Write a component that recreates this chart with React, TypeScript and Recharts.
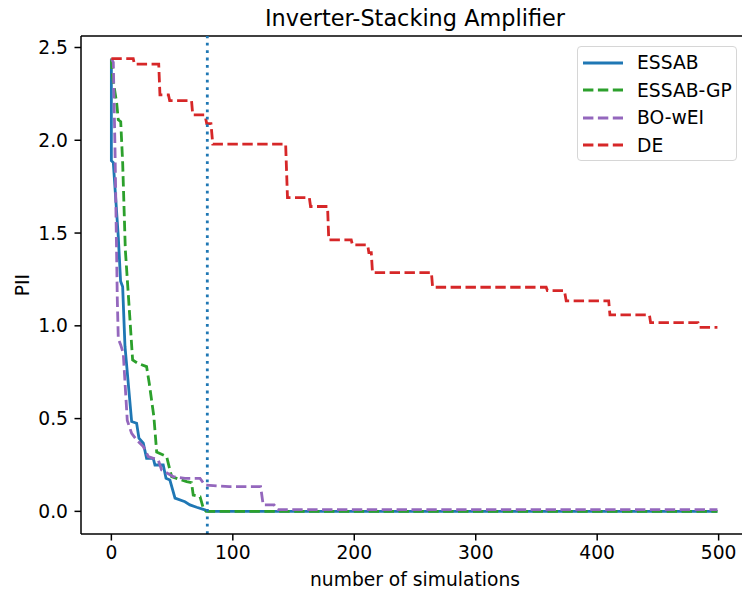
import { LineChart, Line, XAxis, YAxis, ReferenceLine } from 'recharts'

// best PII found so far vs. number of simulations
const essab = [
  { x: 0, y: 2.44 }, { x: 0, y: 1.89 }, { x: 1.6, y: 1.88 }, { x: 5.7, y: 1.48 },
  { x: 7.6, y: 1.24 }, { x: 9.3, y: 1.21 }, { x: 11.2, y: 0.89 }, { x: 16.7, y: 0.484 },
  { x: 20.8, y: 0.475 }, { x: 22.7, y: 0.394 }, { x: 26.3, y: 0.367 }, { x: 29, y: 0.286 },
  { x: 34.5, y: 0.286 }, { x: 35.9, y: 0.25 }, { x: 42.7, y: 0.25 }, { x: 45, y: 0.178 },
  { x: 48.2, y: 0.169 }, { x: 52.4, y: 0.071 }, { x: 60.6, y: 0.052 }, { x: 64.7, y: 0.035 },
  { x: 70.2, y: 0.022 }, { x: 77, y: 0.008 }, { x: 80, y: 0 }, { x: 499, y: 0 },
]

const essabGp = [
  { x: 0, y: 2.44 }, { x: 1, y: 2.34 }, { x: 4.4, y: 2.2 }, { x: 5.7, y: 2.11 },
  { x: 7.7, y: 2.1 }, { x: 9.3, y: 1.88 }, { x: 11.5, y: 1.41 }, { x: 14.7, y: 1.095 },
  { x: 17.5, y: 0.816 }, { x: 21.8, y: 0.798 }, { x: 29, y: 0.78 }, { x: 31.2, y: 0.69 },
  { x: 35, y: 0.51 }, { x: 37.3, y: 0.32 }, { x: 45.5, y: 0.295 }, { x: 49.6, y: 0.187 },
  { x: 62, y: 0.16 }, { x: 66, y: 0.155 }, { x: 67.4, y: 0.088 }, { x: 73, y: 0.079 },
  { x: 75.7, y: 0.017 }, { x: 78, y: 0 }, { x: 499, y: 0 },
]

const boWei = [
  { x: 0, y: 2.44 }, { x: 1.6, y: 2.42 }, { x: 3, y: 1.95 }, { x: 4.9, y: 1.14 },
  { x: 5.7, y: 0.93 }, { x: 7.7, y: 0.897 }, { x: 9.8, y: 0.852 }, { x: 13.1, y: 0.49 },
  { x: 16.7, y: 0.42 }, { x: 20.8, y: 0.385 }, { x: 26.3, y: 0.349 }, { x: 30.4, y: 0.295 },
  { x: 38.6, y: 0.277 }, { x: 41.4, y: 0.223 }, { x: 51, y: 0.187 }, { x: 60.6, y: 0.178 },
  { x: 73, y: 0.178 }, { x: 77, y: 0.142 }, { x: 97, y: 0.133 }, { x: 122.9, y: 0.133 },
  { x: 125, y: 0.035 }, { x: 134, y: 0.035 }, { x: 137, y: 0.009 }, { x: 499, y: 0.009 },
]

const de = [
  { x: 0, y: 2.44 }, { x: 18, y: 2.44 }, { x: 19, y: 2.41 }, { x: 39, y: 2.41 },
  { x: 40, y: 2.245 }, { x: 47, y: 2.245 }, { x: 48, y: 2.214 }, { x: 66, y: 2.214 },
  { x: 67, y: 2.137 }, { x: 77, y: 2.137 }, { x: 78.5, y: 2.09 }, { x: 82, y: 2.09 },
  { x: 83.5, y: 1.979 }, { x: 143.5, y: 1.979 }, { x: 145, y: 1.691 }, { x: 163, y: 1.691 },
  { x: 164, y: 1.643 }, { x: 178, y: 1.643 }, { x: 179, y: 1.463 }, { x: 197.5, y: 1.463 },
  { x: 198.5, y: 1.436 }, { x: 211, y: 1.436 }, { x: 212, y: 1.395 }, { x: 214, y: 1.395 },
  { x: 215, y: 1.287 }, { x: 263.5, y: 1.287 }, { x: 264.5, y: 1.208 }, { x: 358, y: 1.208 },
  { x: 359, y: 1.19 }, { x: 373, y: 1.19 }, { x: 374.5, y: 1.134 }, { x: 409.5, y: 1.134 },
  { x: 410.5, y: 1.059 }, { x: 443, y: 1.059 }, { x: 444, y: 1.017 }, { x: 483, y: 1.017 },
  { x: 484, y: 0.992 }, { x: 499, y: 0.992 },
]

const xTicks = [0, 100, 200, 300, 400, 500]
const yTicks = [0, 0.5, 1, 1.5, 2, 2.5]
const xDomain = [-25, 525]
const yDomain = [-0.122, 2.562]
const budgetLine = 79

const series = [
  { name: 'ESSAB', data: essab, color: '#1f77b4', dash: undefined },
  { name: 'ESSAB-GP', data: essabGp, color: '#2ca02c', dash: '10.4 4.5' },
  { name: 'BO-wEI', data: boWei, color: '#9467bd', dash: '10.4 4.5' },
  { name: 'DE', data: de, color: '#d62728', dash: '10.4 4.5' },
]

const font = '"DejaVu Sans", sans-serif'
const fs = 18.7
const tickStyle = { fill: '#000', fontSize: fs, fontFamily: font }
const axisStroke = { stroke: '#000', strokeWidth: 1.5 }

function LegendBox() {
  return (
    <div style={{
      position: 'absolute', left: 577, top: 46, width: 160, height: 115, boxSizing: 'border-box',
      background: 'rgba(255,255,255,0.8)', border: '1.5px solid #d6d6d6', borderRadius: 4,
      paddingTop: 2, fontFamily: font, fontSize: fs, color: '#000',
    }}>
      {series.map(s => (
        <div key={s.name} style={{ display: 'flex', alignItems: 'center', height: 27.5 }}>
          <svg width={40} height={10} style={{ marginLeft: 5, marginRight: 14 }}>
            <line x1={0} y1={5} x2={40} y2={5} stroke={s.color} strokeWidth={2.8} strokeDasharray={s.dash} />
          </svg>
          <span>{s.name}</span>
        </div>
      ))}
    </div>
  )
}

export default function App() {
  return (
    <div style={{ position: 'absolute', left: 0, top: 0, width: 742, height: 592, overflow: 'hidden', background: '#fff' }}>
      <div style={{
        position: 'absolute', left: 81, width: 668, top: 4, lineHeight: '28px', textAlign: 'center',
        fontFamily: font, fontSize: 22.4, color: '#000',
      }}>
        Inverter-Stacking Amplifier
      </div>
      <LineChart width={760} height={592} margin={{ top: 36, right: 11, bottom: 0, left: 0 }}>
        <XAxis
          type="number" dataKey="x" domain={xDomain} ticks={xTicks} allowDataOverflow
          height={58} tickSize={6.5} tickMargin={5} tick={tickStyle}
          axisLine={axisStroke} tickLine={axisStroke}
          label={({ viewBox }: any) => (
            <text x={viewBox.x + viewBox.width / 2} y={viewBox.y + 45} textAnchor="middle"
              dominantBaseline="central" fontFamily={font} fontSize={fs} fill="#000">
              number of simulations
            </text>
          )}
        />
        <YAxis
          type="number" domain={yDomain} ticks={yTicks} allowDataOverflow width={81}
          tickFormatter={(v: number) => v.toFixed(1)} tickSize={6.5} tickMargin={6.5} tick={tickStyle}
          axisLine={axisStroke} tickLine={axisStroke}
          label={({ viewBox }: any) => (
            <text x={22} y={viewBox.y + viewBox.height / 2} textAnchor="middle" dominantBaseline="central"
              transform={`rotate(-90 22 ${viewBox.y + viewBox.height / 2})`}
              fontFamily={font} fontSize={fs} fill="#000">
              PII
            </text>
          )}
        />
        {/* top and right spines */}
        <ReferenceLine y={yDomain[1]} stroke="#000" strokeWidth={1.5} />
        <ReferenceLine x={xDomain[1]} stroke="#000" strokeWidth={1.5} />
        {series.map(s => (
          <Line key={s.name} data={s.data} dataKey="y" name={s.name} type="linear" stroke={s.color}
            strokeWidth={2.8} strokeDasharray={s.dash} dot={false} activeDot={false}
            isAnimationActive={false} />
        ))}
        <ReferenceLine x={budgetLine} stroke="#1f77b4" strokeWidth={2.8} strokeDasharray="2.8 4.6" />
      </LineChart>
      <LegendBox />
    </div>
  )
}
